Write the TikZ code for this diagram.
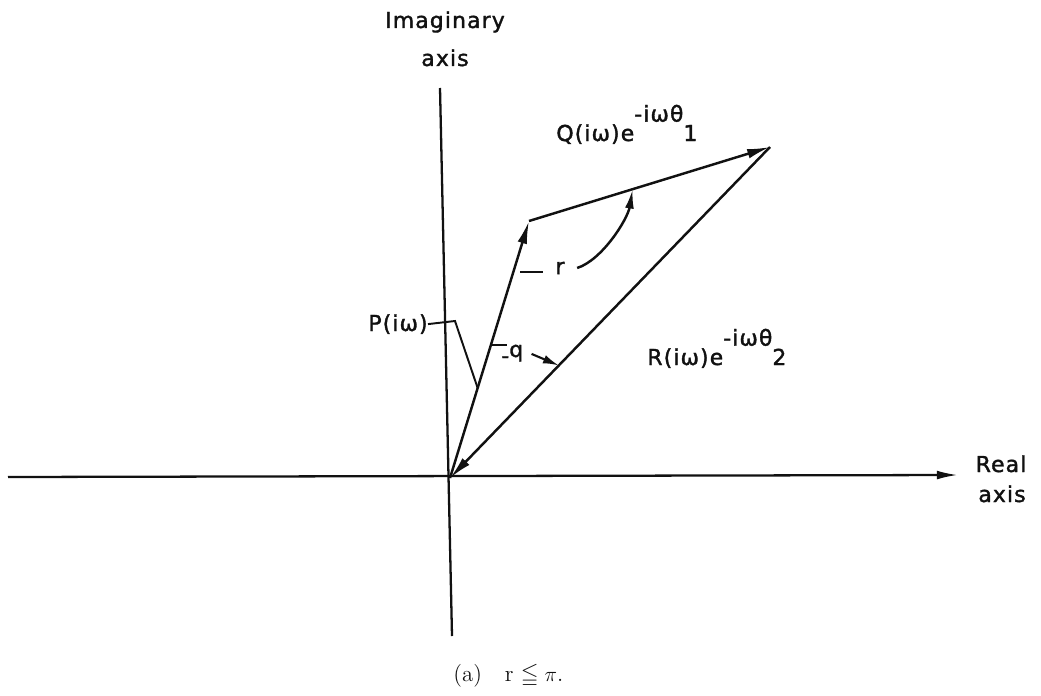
\documentclass[tikz,border=0pt]{standalone}
\usepackage{amssymb}
\usepackage{fontspec}
\usepackage{tikz}
\usetikzlibrary{arrows.meta,calc}
\newfontfamily\lettering{DejaVu Sans}[LetterSpace=5,FakeBold=1.6]
\definecolor{murekkep}{HTML}{111111}

\begin{document}
\begin{tikzpicture}[x=0.02cm,y=-0.02cm,murekkep,
  vektor/.style={line width=1.4pt,-{Latex[length=13pt,width=5.5pt]}},
  yazi/.style={font=\lettering\fontsize{12.5}{15}\selectfont,inner sep=0pt},
  kilavuz/.style={line width=1.1pt}]
\useasboundingbox (0,0) rectangle (1041,696);
% eksenler
\coordinate (xsol) at (8,477);
\coordinate (xsag) at (958,475);
\coordinate (yust) at (440,88);
\coordinate (yalt) at (452,636);
\draw[line width=1.3pt,-{Latex[length=12pt,width=5pt]}] (xsol)--(xsag);
\draw[line width=1.3pt] (yust)--(yalt);
\node[yazi,anchor=base] (imag) at (445,28) {Imaginary};
\node[yazi,anchor=base] (imagb) at (445,66) {axis};
\node[yazi,anchor=base] (real) at (1001,472) {Real};
\node[yazi,anchor=base] (realb) at (1002,502) {axis};
% vektorler: P, Q, R
\coordinate (O) at (450,478);
\coordinate (A) at (529,221);
\coordinate (B) at (770,147);
\draw[vektor] (O)--(A);
\draw[vektor] (A)--(B);
\draw[vektor] (B)--(O);
\node[yazi,anchor=base west] (qlab) at (556,141) {Q(iω)e\raisebox{11pt}{-iωθ}1};
\node[yazi,anchor=base west] (rlab) at (647,365) {R(iω)e\raisebox{11pt}{-iωθ}2};
\node[yazi,anchor=base east] (plab) at (428,331) {P(iω)};
% P kilavuzu
\coordinate (pk) at (455,321);
\draw[kilavuz] (plab.east)--(pk)--($(O)!0.35!(A)$);
% r acisi
\node[yazi,inner xsep=7pt] (rr) at (560,268) {r};
\coordinate (rk) at ($(O)!0.8!(A)+(7,0)$);
\draw[kilavuz] (rk)--(rk -| rr.west);
\draw[line width=1.4pt,-{Latex[length=11pt,width=5pt]}] (rr.east) .. controls +(25,-8) and +(-5,30) .. ($(A)!0.43!(B)$);
% q acisi
\node[yazi,anchor=base west] (qq) at (501,357) {\raisebox{-3.5pt}{-}q};
\coordinate (pq) at ($(O)!0.517!(A)$);
\draw[kilavuz] (pq)--($(pq -| qq.west)+(6,0)$);
\draw[line width=1.2pt,-{Latex[length=9pt,width=5pt]}] ($(qq.east)+(8,0)$)--($(B)!0.66!(O)$);
% alt yazi
\node[anchor=base west,inner sep=0pt,font=\fontsize{13}{15}\selectfont] (alt) at (453,681) {(a)\quad r $\leqq \pi$.};
\end{tikzpicture}
\end{document}
